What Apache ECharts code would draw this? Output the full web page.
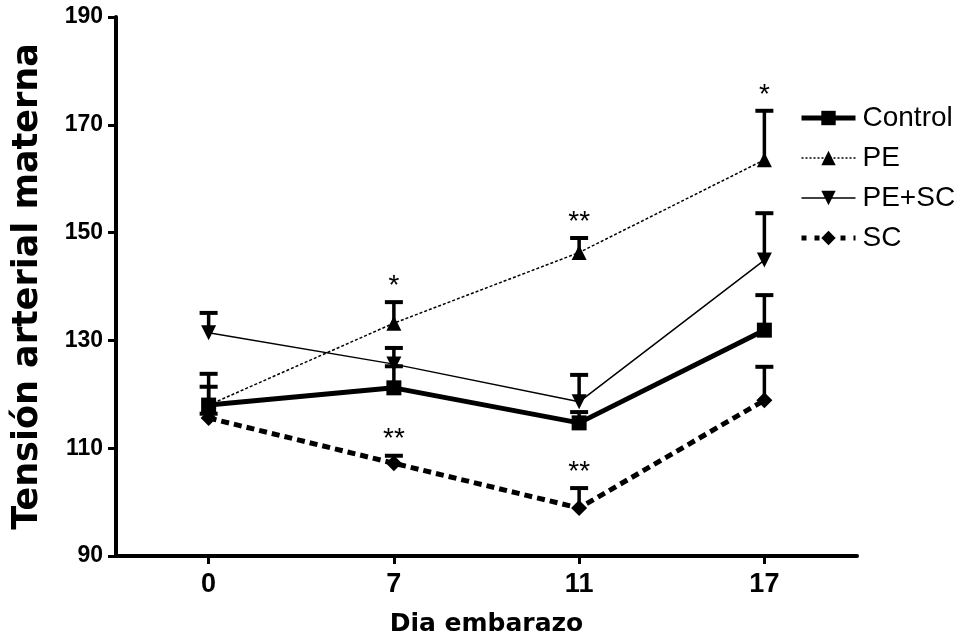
<!DOCTYPE html>
<html>
<head>
<meta charset="utf-8">
<script src="https://cdn.jsdelivr.net/npm/echarts@6/dist/echarts.min.js"></script>
<style>
  html, body { margin: 0; padding: 0; background: #ffffff; }
  #chart { width: 962px; height: 639px; }
</style>
</head>
<body>
<div id="chart"></div>
<script>
// Days of pregnancy on which blood pressure was measured
const days = ['0', '7', '11', '17'];

// Mean maternal blood pressure per group, with the standard error (upper bar only)
const control   = [118.0, 121.2, 114.7, 131.9];
const controlSE = [3.4, 4.0, 2.0, 6.5];
const pe        = [118.0, 133.2, 146.3, 163.5];
const peSE      = [5.8, 3.9, 2.7, 9.1];
const peSc      = [131.4, 125.6, 118.6, 144.9];
const peScSE    = [3.7, 3.0, 5.0, 8.7];
const sc        = [115.6, 107.2, 98.9, 118.9];
const scSE      = [0.8, 1.4, 3.7, 6.2];

// Y axis range and ticks
const yMin = 90, yMax = 190, yStep = 20;

// Significance marks placed above the error bar of a group on a given day
const sigMarks = [
  { vals: pe, se: peSE, day: 1, text: '*' },
  { vals: pe, se: peSE, day: 2, text: '**' },
  { vals: pe, se: peSE, day: 3, text: '*' },
  { vals: sc, se: scSE, day: 1, text: '**' },
  { vals: sc, se: scSE, day: 2, text: '**' }
];

const BLACK = '#000000';
const ARIAL = '"Liberation Sans", Arial, sans-serif';

function errorBars(id, vals, se) {
  return {
    type: 'custom',
    id: id,
    name: id,
    silent: true,
    z: 1,
    data: vals.map((v, i) => [i, v, v + se[i]]),
    encode: { x: 0, y: [1, 2] },
    renderItem: function (params, api) {
      const base = api.coord([api.value(0), api.value(1)]);
      const top = api.coord([api.value(0), api.value(2)]);
      const half = 9;
      return {
        type: 'group',
        children: [
          { type: 'line', shape: { x1: base[0], y1: base[1], x2: top[0], y2: top[1] },
            style: { stroke: BLACK, lineWidth: 3.5 } },
          { type: 'line', shape: { x1: top[0] - half, y1: top[1], x2: top[0] + half, y2: top[1] },
            style: { stroke: BLACK, lineWidth: 4 } }
        ]
      };
    }
  };
}

const chart = echarts.init(document.getElementById('chart'), null, { renderer: 'canvas' });

chart.setOption({
  backgroundColor: '#ffffff',
  animation: false,
  grid: { left: 116, right: 105, top: 17, bottom: 83, outerBoundsMode: 'none', containLabel: false },
  legend: {
    orient: 'vertical',
    left: 799,
    top: 104,
    padding: 0,
    itemWidth: 54,
    itemHeight: 18,
    itemGap: 12,
    data: [
      { name: 'Control', lineStyle: { width: 5, type: 'solid' } },
      { name: 'PE', lineStyle: { width: 1.5, type: [2, 2] } },
      { name: 'PE+SC', lineStyle: { width: 1.5, type: 'solid' } },
      { name: 'SC', lineStyle: { width: 5, type: [5, 8] } }
    ],
    textStyle: {
      fontFamily: ARIAL,
      fontSize: 28,
      lineHeight: 28,
      color: BLACK,
      padding: [0, 0, 0, 2]
    }
  },
  xAxis: {
    type: 'category',
    data: days,
    boundaryGap: true,
    name: 'Dia embarazo',
    nameLocation: 'middle',
    nameGap: 56,
    nameTextStyle: {
      fontFamily: '"DejaVu Sans", sans-serif',
      fontWeight: 'bold',
      fontSize: 25,
      color: BLACK
    },
    axisLine: { show: true, lineStyle: { color: BLACK, width: 4 } },
    axisTick: { show: true, alignWithLabel: true, length: 8, lineStyle: { color: BLACK, width: 3 } },
    axisLabel: {
      margin: 15,
      fontFamily: ARIAL,
      fontWeight: 'bold',
      fontSize: 27,
      color: BLACK
    },
    splitLine: { show: false }
  },
  yAxis: {
    type: 'value',
    min: yMin,
    max: yMax,
    interval: yStep,
    name: 'Tensión arterial materna',
    nameLocation: 'middle',
    nameGap: 71,
    nameTextStyle: {
      fontFamily: '"DejaVu Sans", sans-serif',
      fontWeight: 'bold',
      fontSize: 35,
      color: BLACK
    },
    axisLine: { show: true, lineStyle: { color: BLACK, width: 4 } },
    axisTick: { show: true, length: 8, lineStyle: { color: BLACK, width: 3 } },
    axisLabel: {
      margin: 13,
      fontFamily: ARIAL,
      fontWeight: 'bold',
      fontSize: 23,
      color: BLACK
    },
    splitLine: { show: false }
  },
  series: [
    errorBars('Control SE', control, controlSE),
    errorBars('PE SE', pe, peSE),
    errorBars('PE+SC SE', peSc, peScSE),
    errorBars('SC SE', sc, scSE),
    {
      name: 'Control', type: 'line', data: control, z: 3,
      symbol: 'rect', symbolSize: 15, showAllSymbol: true,
      itemStyle: { color: BLACK },
      lineStyle: { color: BLACK, width: 5, type: 'solid' }
    },
    {
      name: 'PE', type: 'line', data: pe, z: 3,
      symbol: 'triangle', symbolSize: [15, 15],
      itemStyle: { color: BLACK },
      lineStyle: { color: BLACK, width: 1.5, type: [3, 2] }
    },
    {
      name: 'PE+SC', type: 'line', data: peSc, z: 3,
      symbol: 'triangle', symbolRotate: 180, symbolSize: [15, 15],
      itemStyle: { color: BLACK },
      lineStyle: { color: BLACK, width: 1.5, type: 'solid' }
    },
    {
      name: 'SC', type: 'line', data: sc, z: 3,
      symbol: 'diamond', symbolSize: 16,
      itemStyle: { color: BLACK },
      lineStyle: { color: BLACK, width: 5, type: [8, 5] }
    },
    {
      type: 'custom',
      id: 'significance',
      silent: true,
      z: 4,
      data: sigMarks.map(m => [m.day, m.vals[m.day] + m.se[m.day]]),
      encode: { x: 0, y: 1 },
      renderItem: function (params, api) {
        const p = api.coord([api.value(0), api.value(1)]);
        return {
          type: 'text',
          x: p[0],
          y: p[1] - 2,
          style: {
            text: sigMarks[params.dataIndex].text,
            fill: BLACK,
            font: '28px ' + ARIAL,
            align: 'center',
            verticalAlign: 'bottom'
          }
        };
      }
    }
  ]
});
</script>
</body>
</html>
